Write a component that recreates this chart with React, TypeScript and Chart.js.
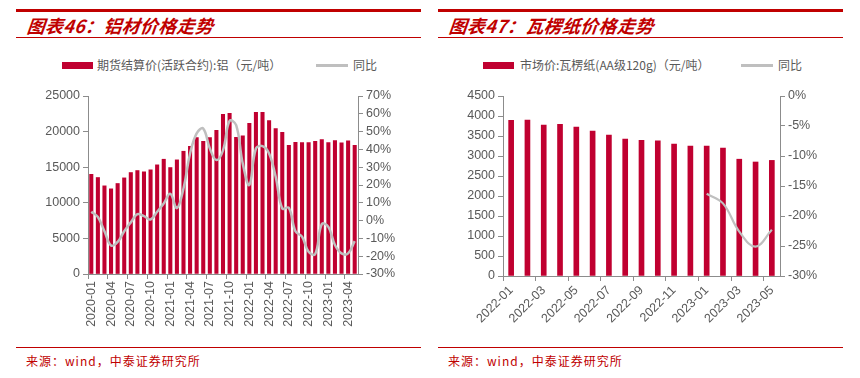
import React, { useEffect, useRef } from 'react';
import { Chart, registerables } from 'chart.js';
Chart.register(...registerables);

// ---------- Data: 铝材价格走势 ----------
const alMonths = [
  '2020-01','2020-02','2020-03','2020-04','2020-05','2020-06','2020-07','2020-08','2020-09','2020-10','2020-11','2020-12',
  '2021-01','2021-02','2021-03','2021-04','2021-05','2021-06','2021-07','2021-08','2021-09','2021-10','2021-11','2021-12',
  '2022-01','2022-02','2022-03','2022-04','2022-05','2022-06','2022-07','2022-08','2022-09','2022-10','2022-11','2022-12',
  '2023-01','2023-02','2023-03','2023-04','2023-05',
];
const alPrice = [
  14000, 13550, 12380, 11960, 12710, 13500, 14250, 14530, 14350, 14630, 15330, 16120,
  14950, 16030, 17240, 17940, 19160, 18640, 19160, 20190, 22430, 22570, 19200, 19390,
  21170, 22710, 22710, 21540, 20420, 19910, 18080, 18500, 18460, 18460, 18640, 18880,
  18460, 18740, 18410, 18690, 18080,
];
const alYoY = [
  5, 2, -6, -14, -12, -6, -1, 3.6, 2.5, 0.6, 5, 9.6,
  15, 7, 18, 37.7, 49, 51.7, 40.5, 34, 39.5, 56, 53.6, 32,
  20, 40.5, 41.8, 37.7, 24.6, 6.8, 7.2, -6, -9, -17.5, -18.8, -2,
  -3.5, -13.7, -18.4, -18.4, -11.5,
];

// ---------- Data: 瓦楞纸价格走势 ----------
const cbMonths = [
  '2022-01','2022-02','2022-03','2022-04','2022-05','2022-06','2022-07','2022-08','2022-09',
  '2022-10','2022-11','2022-12','2023-01','2023-02','2023-03','2023-04','2023-05',
];
const cbPrice = [3890, 3900, 3770, 3790, 3720, 3620, 3520, 3420, 3390, 3380, 3300, 3250, 3250, 3200, 2920, 2850, 2890];
const cbYoY = [null, null, null, null, null, null, null, null, null, null, null, null, -16.3, -17.9, -22.6, -25.1, -22.3];

const alLegend = ['期货结算价(活跃合约):铝（元/吨）', '同比'];
const cbLegend = ['市场价:瓦楞纸(AA级120g)（元/吨）', '同比'];

const RED = '#C00030';
const DARKRED = '#C00000';
const GREY_LINE = '#BFBFBF';
const AXIS = '#8C8C8C';
const TICK_TEXT = '#595959';
const FONT = "'Liberation Sans', Arial, sans-serif";
const CJK = "'Noto Sans CJK SC', sans-serif";

type Cfg = {
  labels: string[];
  bars: number[];
  line: (number | null)[];
  barThickness: number;
  labelEvery: number;
  rotation: number;
  yMax: number;
  yStep: number;
  y1Min: number;
  y1Max: number;
  y1Step: number;
  leftW: number;
  rightW: number;
  xH: number;
  lineWidth: number;
};

function ChartCanvas({ cfg, width, height }: { cfg: Cfg; width: number; height: number }) {
  const ref = useRef<HTMLCanvasElement | null>(null);
  useEffect(() => {
    if (!ref.current) return;
    const tickColor = (every: number) => (ctx: any) =>
      ctx.index !== undefined && ctx.index % every === 0 ? AXIS : 'rgba(0,0,0,0)';
    const chart = new Chart(ref.current, {
      type: 'bar',
      data: {
        labels: cfg.labels,
        datasets: [
          {
            type: 'line',
            label: 'yoy',
            data: cfg.line as any,
            yAxisID: 'y1',
            borderColor: GREY_LINE,
            borderWidth: cfg.lineWidth,
            pointRadius: 0,
            tension: 0.4,
            order: 0,
            spanGaps: false,
          } as any,
          {
            type: 'bar',
            label: 'price',
            data: cfg.bars,
            yAxisID: 'y',
            backgroundColor: RED,
            barThickness: cfg.barThickness,
            order: 1,
          } as any,
        ],
      },
      options: {
        animation: false,
        responsive: false,
        maintainAspectRatio: false,
        devicePixelRatio: 1,
        layout: { padding: { top: 16, left: 0, right: 0, bottom: 0 } },
        plugins: { legend: { display: false }, tooltip: { enabled: false } },
        scales: {
          x: {
            offset: true,
            afterFit: (s: any) => { s.height = cfg.xH; },
            border: { display: true, color: AXIS, width: 1 },
            grid: {
              offset: true,
              drawOnChartArea: false,
              drawTicks: true,
              tickLength: 5,
              color: tickColor(cfg.labelEvery),
            },
            ticks: {
              autoSkip: false,
              maxRotation: cfg.rotation,
              minRotation: cfg.rotation,
              padding: 2,
              color: TICK_TEXT,
              font: { family: FONT, size: 12.5 },
              callback: (_v: any, i: number) => (i % cfg.labelEvery === 0 ? cfg.labels[i] : ''),
            },
          },
          y: {
            position: 'left',
            min: 0,
            max: cfg.yMax,
            afterFit: (s: any) => { s.width = cfg.leftW; },
            border: { display: true, color: AXIS, width: 1 },
            grid: { drawOnChartArea: false, drawTicks: true, tickLength: 5, color: AXIS },
            ticks: {
              stepSize: cfg.yStep,
              autoSkip: false,
              padding: 3,
              color: TICK_TEXT,
              font: { family: FONT, size: 12.5 },
              callback: (v: any) => String(v),
            },
          },
          y1: {
            position: 'right',
            min: cfg.y1Min,
            max: cfg.y1Max,
            afterFit: (s: any) => { s.width = cfg.rightW; },
            border: { display: true, color: AXIS, width: 1 },
            grid: { drawOnChartArea: false, drawTicks: true, tickLength: 5, color: AXIS },
            ticks: {
              stepSize: cfg.y1Step,
              autoSkip: false,
              padding: 3,
              color: TICK_TEXT,
              font: { family: FONT, size: 12.5 },
              callback: (v: any) => `${v}%`,
            },
          },
        },
      } as any,
    });
    return () => chart.destroy();
  }, [cfg]);
  return <canvas ref={ref} width={width} height={height} style={{ width, height, display: 'block' }} />;
}

const alCfg: Cfg = {
  labels: alMonths, bars: alPrice, line: alYoY, barThickness: 3.4, labelEvery: 3, rotation: 90,
  yMax: 25000, yStep: 5000, y1Min: -30, y1Max: 70, y1Step: 10, leftW: 72, rightW: 63, xH: 68, lineWidth: 2.5,
};
const cbCfg: Cfg = {
  labels: cbMonths, bars: cbPrice, line: cbYoY, barThickness: 5, labelEvery: 2, rotation: 45,
  yMax: 4500, yStep: 500, y1Min: -30, y1Max: 0, y1Step: 5, leftW: 65, rightW: 63, xH: 66, lineWidth: 2.2,
};

function Panel({ left, title, legend, cfg, legendX }: { left: number; title: string; legend: string[]; cfg: Cfg; legendX: number[] }) {
  const abs = (s: React.CSSProperties): React.CSSProperties => ({ position: 'absolute', ...s });
  return (
    <>
      <div style={abs({ left, top: 9, width: 405, height: 3, background: DARKRED })} />
      <div style={abs({ left: left + 11, top: 13, height: 24, lineHeight: '24px', fontFamily: CJK, fontWeight: 700, fontStyle: 'italic', fontSize: 18, letterSpacing: 0.3, color: DARKRED, whiteSpace: 'nowrap', transform: 'skewX(-6deg)' })}>{title}</div>
      <div style={abs({ left, top: 37, width: 405, height: 1, background: DARKRED })} />
      <div style={abs({ left: legendX[0], top: 62, width: 31, height: 7, background: RED })} />
      <div style={abs({ left: legendX[1], top: 56, height: 18, lineHeight: '18px', fontFamily: CJK, fontSize: 12, color: TICK_TEXT, whiteSpace: 'nowrap' })}>{legend[0]}</div>
      <div style={abs({ left: legendX[2], top: 64, width: 32, height: 2.5, background: GREY_LINE })} />
      <div style={abs({ left: legendX[3], top: 56, height: 18, lineHeight: '18px', fontFamily: CJK, fontSize: 12, color: TICK_TEXT, whiteSpace: 'nowrap' })}>{legend[1]}</div>
      <div style={abs({ left, top: 80 })}>
        <ChartCanvas cfg={cfg} width={405} height={262} />
      </div>
      <div style={abs({ left, top: 346.5, width: 405, height: 1.5, background: DARKRED })} />
      <div style={abs({ left: left + 10, top: 352, height: 18, lineHeight: '18px', fontFamily: CJK, fontSize: 12, letterSpacing: 1, color: DARKRED, whiteSpace: 'nowrap' })}>来源：wind，中泰证券研究所</div>
    </>
  );
}

export default function App() {
  return (
    <div style={{ position: 'absolute', left: 0, top: 0, width: 860, height: 378, background: '#fff', overflow: 'hidden' }}>
      <Panel left={16} title="图表46：铝材价格走势" legend={alLegend} cfg={alCfg} legendX={[62, 97, 316, 353]} />
      <Panel left={438} title="图表47：瓦楞纸价格走势" legend={cbLegend} cfg={cbCfg} legendX={[483, 520, 741, 778]} />
    </div>
  );
}
